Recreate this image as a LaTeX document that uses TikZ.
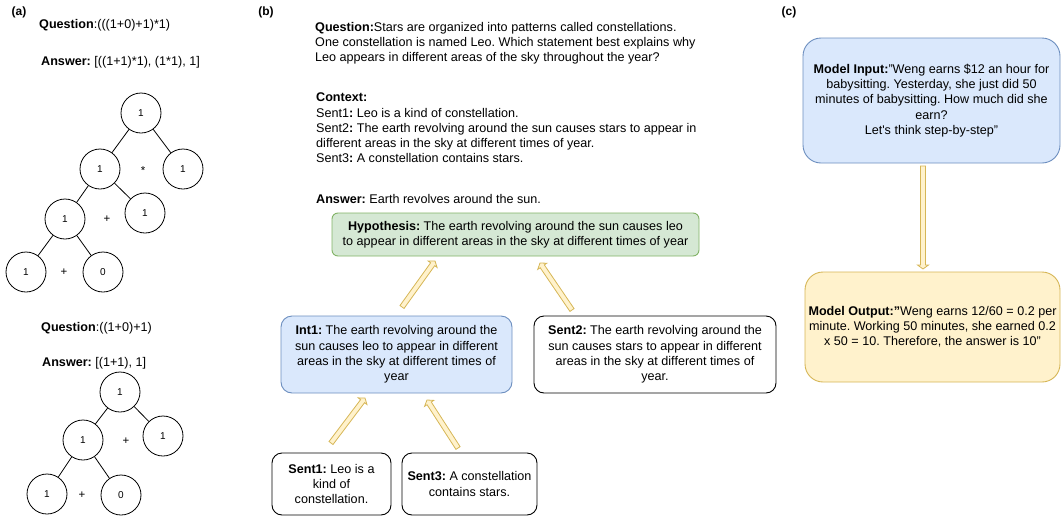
\documentclass[tikz,border=0pt]{standalone}
\usepackage{fontspec}
\setmainfont{Liberation Sans}
\usetikzlibrary{calc}
\frenchspacing
\definecolor{gfill}{HTML}{D5E8D4}
\definecolor{gline}{HTML}{82B366}
\definecolor{bfill}{HTML}{DAE8FC}
\definecolor{bline}{HTML}{6C8EBF}
\definecolor{yfill}{HTML}{FFF2CC}
\definecolor{yline}{HTML}{D6B656}
\newcommand{\flexarr}[2]{%
  \filldraw[flexarrow]
    ($(#1)!2.5pt!90:(#2)$) --
    ($(#2)!4pt!(#1)!2.5pt!90:(#2)$) --
    ($(#2)!4pt!(#1)!5.5pt!90:(#2)$) --
    (#2) --
    ($(#2)!4pt!(#1)!5.5pt!-90:(#2)$) --
    ($(#2)!4pt!(#1)!2.5pt!-90:(#2)$) --
    ($(#1)!2.5pt!-90:(#2)$) -- cycle;}
\begin{document}
\begin{tikzpicture}[x=1pt,y=-1pt,
  txt/.style={inner sep=0pt,font=\fontsize{12.6}{15.2}\selectfont},
  lbl/.style={inner sep=0pt,font=\fontsize{12}{14}\selectfont\bfseries},
  circ/.style={circle,draw,line width=0.8pt,minimum size=40pt,inner sep=0pt,font=\fontsize{10}{12}\selectfont},
  op/.style={inner sep=0pt,font=\fontsize{11.5}{12}\selectfont},
  tedge/.style={line width=0.8pt},
  box/.style={draw,line width=0.9pt,align=center,inner sep=2pt,font=\fontsize{12.6}{15.2}\selectfont},
  plainbox/.style={box,draw=black,fill=white,rounded corners=10pt},
  flexarrow/.style={draw=yline,fill=yfill,line width=0.8pt,line join=miter}]
\useasboundingbox (0,0) rectangle (1061,517);

% ---------- (a) ----------
\node[lbl] (la) at (19,12) {(a)};
\node[txt,anchor=west] (q1) at (39,25) {\textbf{Question}:(((1+0)+1)*1)};
\node[txt,anchor=west] (a1) at (41,62) {\textbf{Answer:} [((1+1)*1), (1*1), 1]};

\node[circ] (t1r) at (141,113) {1};
\node[circ] (t1a) at (100,169) {1};
\node[circ] (t1b) at (183,169) {1};
\node[op] (t1o1) at (143,171) {*};
\node[circ] (t1c) at (65,219) {1};
\node[circ] (t1d) at (145,213) {1};
\node[op] (t1o2) at (107,219) {+};
\node[circ] (t1e) at (26,272) {1};
\node[circ] (t1f) at (103,272) {0};
\node[op] (t1o3) at (64,272) {+};
\draw[tedge] (t1r) -- (t1a);
\draw[tedge] (t1r) -- (t1b);
\draw[tedge] (t1a) -- (t1c);
\draw[tedge] (t1a) -- (t1d);
\draw[tedge] (t1c) -- (t1e);
\draw[tedge] (t1c) -- (t1f);

\node[txt,anchor=west] (q2) at (41,328) {\textbf{Question}:((1+0)+1)};
\node[txt,anchor=west] (a2) at (42,363) {\textbf{Answer:} [(1+1), 1]};

\node[circ] (t2r) at (120,392) {1};
\node[circ] (t2a) at (83,440) {1};
\node[circ] (t2b) at (163,436) {1};
\node[op] (t2o1) at (126,441) {+};
\node[circ] (t2c) at (47,494) {1};
\node[circ] (t2d) at (121,495) {0};
\node[op] (t2o2) at (82,495) {+};
\draw[tedge] (t2r) -- (t2a);
\draw[tedge] (t2r) -- (t2b);
\draw[tedge] (t2a) -- (t2c);
\draw[tedge] (t2a) -- (t2d);

% ---------- (b) ----------
\node[lbl] (lb) at (266,12) {(b)};
\node[txt,anchor=west,align=left] (qb) at (315,43.5) {\textbf{Question:}Stars are organized into patterns called constellations.\\One constellation is named Leo. Which statement best explains why\\Leo appears in different areas of the sky throughout the year?};
\node[txt,anchor=west,align=left] (ctx) at (316,128) {\textbf{Context:}\\Sent1\textbf{:} Leo is a kind of constellation.\\Sent2\textbf{:} The earth revolving around the sun causes stars to appear in\\different areas in the sky at different times of year.\\Sent3\textbf{:} A constellation contains stars.};
\node[txt,anchor=west] (ansb) at (316,199) {\textbf{Answer:} Earth revolves around the sun.};

\node[box,draw=gline,fill=gfill,rounded corners=6pt,minimum width=367pt,minimum height=43pt] (hyp) at (515.5,234.5)
  {\textbf{Hypothesis:} The earth revolving around the sun causes leo\\to appear in different areas in the sky at different times of year};
\node[box,draw=bline,fill=bfill,rounded corners=11pt,minimum width=231pt,minimum height=77pt] (int1) at (396.5,354.5)
  {\textbf{Int1:} The earth revolving around the\\sun causes leo to appear in different\\areas in the sky at different times of\\year};
\node[plainbox,minimum width=242pt,minimum height=77pt] (s2) at (655,354.5)
  {\textbf{Sent2:} The earth revolving around the\\sun causes stars to appear in different\\areas in the sky at different times of\\year.};
\node[plainbox,minimum width=119pt,minimum height=62pt] (s1) at (331.5,484)
  {\textbf{Sent1:} Leo is a\\kind of\\constellation.};
\node[plainbox,minimum width=135pt,minimum height=62pt] (s3) at (469.5,484)
  {\textbf{Sent3:} A constellation\\contains stars.};

\coordinate (i1s) at (402,307);
\coordinate (i1e) at (435,261);
\coordinate (s2s) at (572,310);
\coordinate (s2e) at (540,263);
\coordinate (s1s) at (331,443);
\coordinate (s1e) at (365,398);
\coordinate (s3s) at (458,448);
\coordinate (s3e) at (427,400);
\flexarr{i1s}{i1e}
\flexarr{s2s}{s2e}
\flexarr{s1s}{s1e}
\flexarr{s3s}{s3e}

% ---------- (c) ----------
\node[lbl] (lc) at (789,12) {(c)};
\node[box,draw=bline,fill=bfill,rounded corners=18pt,minimum width=257pt,minimum height=125pt] (min) at (931.5,100.5)
  {\textbf{Model Input:}"Weng earns \$12 an hour for\\babysitting. Yesterday, she just did 50\\minutes of babysitting. How much did she\\earn?\\Let\textquotesingle s think step-by-step"};
\node[box,draw=yline,fill=yfill,rounded corners=18pt,minimum width=255pt,minimum height=110pt] (mout) at (932.5,327)
  {\textbf{Model Output:"}Weng earns 12/60 = 0.2 per\\minute. Working 50 minutes, she earned 0.2\\x 50 = 10. Therefore, the answer is 10"};
\coordinate (cs) at (923,166);
\coordinate (ce) at (923,269);
\flexarr{cs}{ce}
\end{tikzpicture}
\end{document}
